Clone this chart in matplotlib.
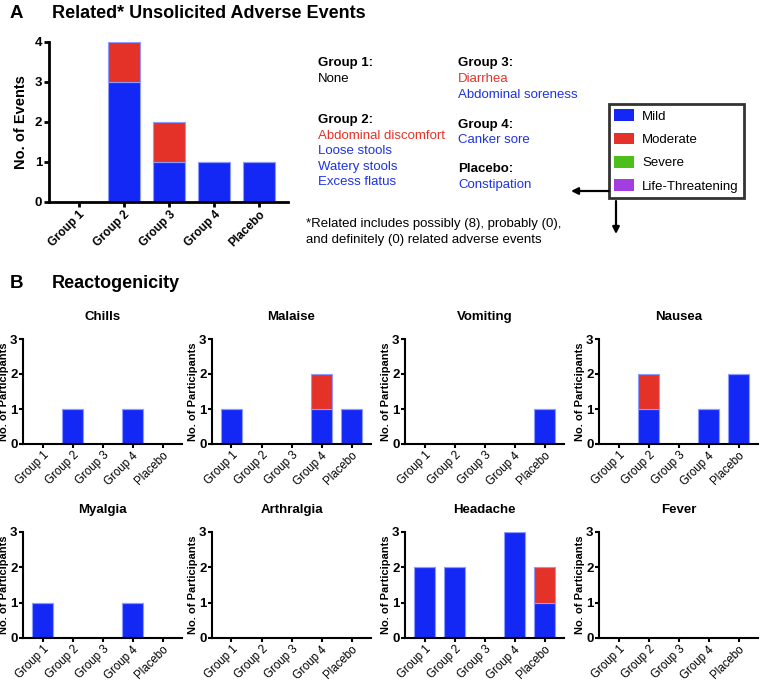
"""Related unsolicited adverse events and reactogenicity, stacked bars by severity."""

import matplotlib

matplotlib.use("Agg")

import matplotlib.pyplot as plt
from matplotlib.patches import Patch

plt.rcParams["font.family"] = ["Liberation Sans", "DejaVu Sans"]

W, H = 760, 683

groups = ["Group 1", "Group 2", "Group 3", "Group 4", "Placebo"]

# panel A: related unsolicited adverse events
ae_mild = [0, 3, 1, 1, 1]
ae_moderate = [0, 1, 1, 0, 0]

# panel B: reactogenicity, one row per symptom
react_symptoms = ["Chills", "Malaise", "Vomiting", "Nausea",
                  "Myalgia", "Arthralgia", "Headache", "Fever"]
react_mild = [
    [0, 1, 0, 1, 0],
    [1, 0, 0, 1, 1],
    [0, 0, 0, 0, 1],
    [0, 1, 0, 1, 2],
    [1, 0, 0, 1, 0],
    [0, 0, 0, 0, 0],
    [2, 2, 0, 3, 1],
    [0, 0, 0, 0, 0],
]
react_moderate = [
    [0, 0, 0, 0, 0],
    [0, 0, 0, 1, 0],
    [0, 0, 0, 0, 0],
    [0, 1, 0, 0, 0],
    [0, 0, 0, 0, 0],
    [0, 0, 0, 0, 0],
    [0, 0, 0, 0, 1],
    [0, 0, 0, 0, 0],
]

severity_labels = ["Mild", "Moderate", "Severe", "Life-Threatening"]
severity_colors = ["#1428f5", "#e53228", "#4cbf1a", "#a43ce0"]
EDGE = "#8d9cff"

# adverse event listing: (text, colour key)
listing_left = [("Group 1:", "head"), ("None", "plain"),
                ("Group 2:", "head"), ("Abdominal discomfort", "mod"),
                ("Loose stools", "mild"), ("Watery stools", "mild"),
                ("Excess flatus", "mild")]
listing_right = [("Group 3:", "head"), ("Diarrhea", "mod"),
                 ("Abdominal soreness", "mild"),
                 ("Group 4:", "head"), ("Canker sore", "mild"),
                 ("Placebo:", "head"), ("Constipation", "mild")]
# vertical placement (pixels from top) of each listing line
left_rows_y = [63, 79, 120, 136, 151, 167, 182]
right_rows_y = [63, 79, 95, 125, 140, 169, 185]


def px_axes(fig, x0, y0, x1, y1):
    return fig.add_axes([x0 / W, 1 - y1 / H, (x1 - x0) / W, (y1 - y0) / H])


def style_axes(ax, lw):
    for side in ("top", "right"):
        ax.spines[side].set_visible(False)
    for side in ("left", "bottom"):
        ax.spines[side].set_linewidth(lw)
    ax.tick_params(width=lw, length=3.5, direction="out", pad=1.5)


def stacked(ax, mild, moderate, width):
    x = range(len(groups))
    ax.bar(x, mild, width=width, color=severity_colors[0], edgecolor=EDGE, linewidth=0.8)
    ax.bar(x, moderate, bottom=mild, width=width, color=severity_colors[1],
           edgecolor=EDGE, linewidth=0.8)
    ax.set_xticks(list(x))
    ax.set_xticklabels(groups, rotation=45, ha="right", rotation_mode="anchor")


fig = plt.figure(figsize=(W / 100, H / 100), dpi=100)

# ---- panel A ----
axA = px_axes(fig, 49, 41.6, 288, 201.7)
stacked(axA, ae_mild, ae_moderate, 0.71)
style_axes(axA, 2.0)
axA.set_xlim(-0.66, 4.64)
axA.set_ylim(0, 4)
axA.set_yticks([0, 1, 2, 3, 4])
axA.set_ylabel("No. of Events", fontsize=10.5, fontweight="bold", labelpad=5)
for lab in axA.get_yticklabels():
    lab.set_fontweight("bold")
    lab.set_fontsize(9.5)
for lab in axA.get_xticklabels():
    lab.set_fontsize(8.5)
    lab.set_fontweight("bold")

# ---- panel B ----
lefts = [23, 212, 405, 599]
rows = [(339, 444), (532, 638)]
for i, name in enumerate(react_symptoms):
    top, bottom = rows[i // 4]
    left = lefts[i % 4]
    ax = px_axes(fig, left, top, left + 159, bottom)
    stacked(ax, react_mild[i], react_moderate[i], 0.72)
    style_axes(ax, 1.5)
    ax.tick_params(length=3, pad=1)
    ax.set_xlim(-0.65, 4.65)
    ax.set_ylim(0, 3)
    ax.set_yticks([0, 1, 2, 3])
    ax.set_title(name, fontsize=9.5, fontweight="bold", pad=14)
    ax.set_ylabel("No. of Participants", fontsize=8, fontweight="bold", labelpad=1)
    for lab in ax.get_yticklabels():
        lab.set_fontweight("bold")
        lab.set_fontsize(9.5)
    for lab in ax.get_xticklabels():
        lab.set_fontsize(8.3)

# ---- overlay for headings, listing, legend arrows ----
ov = fig.add_axes([0, 0, 1, 1], zorder=-1)
ov.set_xlim(0, W)
ov.set_ylim(H, 0)
ov.axis("off")

ov.text(10, 13, "A", fontsize=13.5, fontweight="bold", va="center")
ov.text(52, 13, "Related* Unsolicited Adverse Events", fontsize=13, fontweight="bold", va="center")
ov.text(10, 284, "B", fontsize=13.5, fontweight="bold", va="center")
ov.text(52, 284, "Reactogenicity", fontsize=13, fontweight="bold", va="center")

text_colors = {"head": "black", "plain": "black", "mod": "#e53228", "mild": "#1e32e6"}
for col_x, listing, ys in ((318, listing_left, left_rows_y), (458, listing_right, right_rows_y)):
    for (txt, kind), y in zip(listing, ys):
        ov.text(col_x, y, txt, fontsize=9.5, va="center", color=text_colors[kind],
                fontweight="bold" if kind == "head" else "normal")
ov.text(306, 224, "*Related includes possibly (8), probably (0),", fontsize=9.5, va="center")
ov.text(306, 240, "and definitely (0) related adverse events", fontsize=9.5, va="center")

ov.annotate("", xy=(571, 191), xytext=(609, 191),
            arrowprops=dict(arrowstyle="-|>", lw=1.6, color="black", mutation_scale=10,
                            shrinkA=0, shrinkB=0))
ov.annotate("", xy=(616, 234), xytext=(616, 201),
            arrowprops=dict(arrowstyle="-|>", lw=1.6, color="black", mutation_scale=10,
                            shrinkA=0, shrinkB=0))

handles = [Patch(facecolor=c, edgecolor="none") for c in severity_colors]
leg = fig.legend(handles, severity_labels, loc="upper left",
                 bbox_to_anchor=(609 / W, 1 - 104 / H), fontsize=9.5, frameon=True,
                 fancybox=False, edgecolor="black", borderpad=0.4, labelspacing=0.75,
                 handlelength=1.5, handleheight=1.0, handletextpad=0.6, borderaxespad=0)
leg.get_frame().set_linewidth(2.0)

fig.savefig("out.png", dpi=100)
